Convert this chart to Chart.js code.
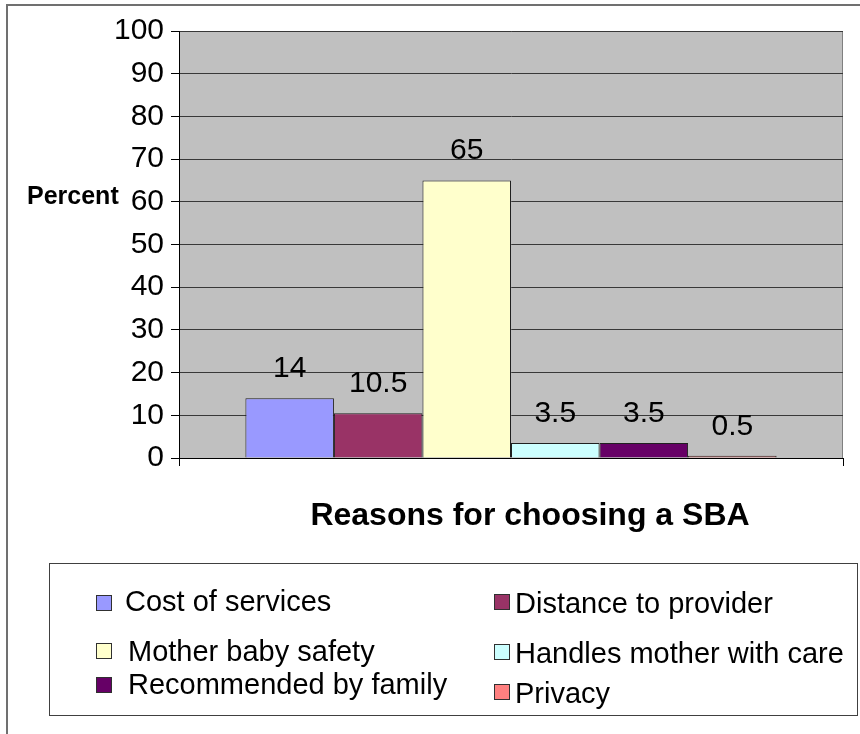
<!DOCTYPE html>
<html>
<head>
<meta charset="utf-8">
<title>Reasons for choosing a SBA</title>
<script src="https://cdn.jsdelivr.net/npm/chart.js@4/dist/chart.umd.min.js"></script>
<style>
  html, body { margin: 0; padding: 0; background: #fff; }
  canvas { display: block; }
</style>
</head>
<body>
<canvas id="sbaChart" width="860" height="734"></canvas>
<script>
// Reasons for choosing a skilled birth attendant, in percent
const categories = [''];
const reasons = [
  'Cost of services',
  'Distance to provider',
  'Mother baby safety',
  'Handles mother with care',
  'Recommended by family',
  'Privacy'
];
const percents = [14, 10.5, 65, 3.5, 3.5, 0.5];
const barColors = ['#9999FF', '#993366', '#FFFFCC', '#CCFFFF', '#660066', '#FF8080'];
const yMin = 0;
const yMax = 100;
const yStep = 10;

const xTitle = 'Reasons for choosing a SBA';
const yTitle = 'Percent';

const fontFamily = '"Liberation Sans", Arial, Helvetica, sans-serif';

// the legend is placed by hand, two columns like the original sheet
// x/y = swatch top-left, tx = text start, ty = text baseline
const legendSlots = [
  { x: 96, y: 595, tx: 125, ty: 611 },
  { x: 494, y: 594, tx: 515, ty: 613 },
  { x: 96, y: 643, tx: 128, ty: 661 },
  { x: 494, y: 644, tx: 515, ty: 663 },
  { x: 96, y: 677, tx: 128, ty: 694 },
  { x: 494, y: 684, tx: 515, ty: 703 }
];

const sheetDecor = {
  id: 'sheetDecor',
  beforeDraw(chart) {
    const { ctx, chartArea: a } = chart;
    ctx.save();
    // grey plot area
    ctx.fillStyle = '#C0C0C0';
    ctx.fillRect(a.left, a.top, a.right - a.left, a.bottom - a.top);
    ctx.strokeStyle = '#808080';
    ctx.lineWidth = 1;
    ctx.strokeRect(a.left + 0.5, a.top + 0.5, a.right - a.left - 1, a.bottom - a.top);
    // outer frame of the chart object (only top and left fall inside the picture)
    ctx.strokeStyle = '#707070';
    ctx.lineWidth = 2;
    ctx.beginPath();
    ctx.moveTo(chart.width, 5);
    ctx.lineTo(7, 5);
    ctx.lineTo(7, chart.height);
    ctx.stroke();
    ctx.restore();
  },
  afterDatasetsDraw(chart) {
    // value labels above each bar
    const ctx = chart.ctx;
    ctx.save();
    ctx.fillStyle = '#000';
    ctx.font = `30px ${fontFamily}`;
    ctx.textAlign = 'center';
    ctx.textBaseline = 'alphabetic';
    chart.data.datasets.forEach((ds, i) => {
      const bar = chart.getDatasetMeta(i).data[0];
      ctx.fillText(String(ds.data[0]), bar.x, bar.y - 21);
    });
    ctx.restore();
  },
  afterDraw(chart) {
    const ctx = chart.ctx;
    const a = chart.chartArea;
    ctx.save();
    ctx.fillStyle = '#000';
    ctx.textBaseline = 'alphabetic';

    // axis titles
    ctx.font = `bold 25px ${fontFamily}`;
    ctx.textAlign = 'left';
    ctx.fillText(yTitle, 27, 204);
    ctx.font = `bold 32px ${fontFamily}`;
    ctx.textAlign = 'center';
    ctx.fillText(xTitle, (a.left + a.right) / 2 + 19, 525);

    // legend box
    ctx.strokeStyle = '#404040';
    ctx.lineWidth = 1;
    ctx.strokeRect(49.5, 563.5, 808, 152);
    ctx.font = `29px ${fontFamily}`;
    ctx.textAlign = 'left';
    chart.data.datasets.forEach((ds, i) => {
      const s = legendSlots[i];
      ctx.fillStyle = ds.backgroundColor;
      ctx.fillRect(s.x, s.y, 16, 16);
      ctx.strokeStyle = '#303030';
      ctx.strokeRect(s.x + 0.5, s.y + 0.5, 15, 15);
      ctx.fillStyle = '#000';
      ctx.fillText(ds.label, s.tx, s.ty);
    });
    ctx.restore();
  }
};

const chart = new Chart(document.getElementById('sbaChart'), {
  type: 'bar',
  data: {
    labels: categories,
    datasets: reasons.map((label, i) => ({
      label: label,
      data: [percents[i]],
      backgroundColor: barColors[i],
      borderColor: '#202020',
      borderWidth: 1,
      categoryPercentage: 0.8,
      barPercentage: 1.0
    }))
  },
  options: {
    responsive: false,
    devicePixelRatio: 1,
    animation: false,
    layout: { padding: { top: 31, right: 17, bottom: 0, left: 0 } },
    plugins: {
      legend: { display: false },
      tooltip: { enabled: false }
    },
    scales: {
      x: {
        ticks: { display: false },
        grid: {
          display: true,
          drawOnChartArea: false,
          offset: true,
          tickLength: 8,
          color: '#000'
        },
        border: { color: '#000', width: 1 },
        afterFit(scale) { scale.height = 276; }
      },
      y: {
        min: yMin,
        max: yMax,
        ticks: {
          stepSize: yStep,
          color: '#000',
          padding: 7,
          font: { family: fontFamily, size: 30 }
        },
        grid: {
          color: '#383838',
          lineWidth: 1,
          tickLength: 8,
          tickColor: '#000'
        },
        border: { color: '#000', width: 1 },
        afterFit(scale) { scale.width = 179; }
      }
    }
  },
  plugins: [sheetDecor]
});
</script>
</body>
</html>
